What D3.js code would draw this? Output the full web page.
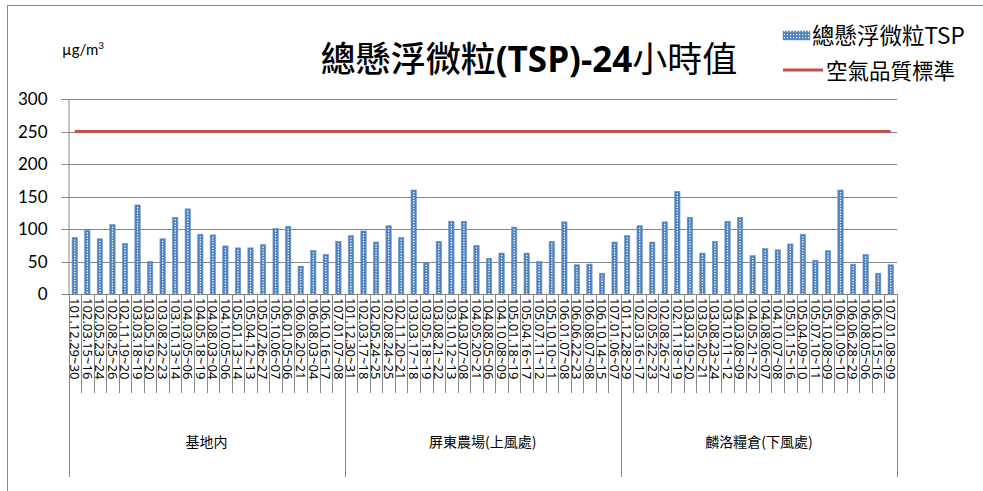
<!DOCTYPE html>
<html>
<head>
<meta charset="utf-8">
<script src="https://cdn.jsdelivr.net/npm/d3@7"></script>
<style>
  body { margin: 0; background: #fff; }
  text { font-family: "Noto Sans", "Noto Sans CJK TC", sans-serif; fill: #000; }
</style>
</head>
<body>
<div id="canvas"></div>
<script>
"use strict"

let svgWidth = 983
let svgHeight = 491

// station groups (lower category level)
let groups = ["基地内", "屏東農場(上風處)", "麟洛糧倉(下風處)"]

// sampling dates per station
let datesBase = ["101.12.29~30", "102.03.15~16", "102.05.23~24", "102.08.25~26", "102.11.19~20", "103.03.18~19",
    "103.05.19~20", "103.08.22~23", "103.10.13~14", "104.03.05~06", "104.05.18~19", "104.08.03~04", "104.10.05~06",
    "105.01.13~14", "105.04.12~13", "105.07.26~27", "105.10.06~07", "106.01.05~06", "106.06.20~21", "106.08.03~04",
    "106.10.16~17", "107.01.07~08"]
let datesFarm = ["101.12.30~31", "102.03.17~18", "102.05.24~25", "102.08.24~25", "102.11.20~21", "103.03.17~18",
    "103.05.18~19", "103.08.21~22", "103.10.12~13", "104.03.07~08", "104.05.20~21", "104.08.05~06", "104.10.08~09",
    "105.01.18~19", "105.04.16~17", "105.07.11~12", "105.10.10~11", "106.01.07~08", "106.06.22~23", "106.08.07~08",
    "106.10.14~15", "107.01.06~07"]
let datesBarn = ["101.12.28~29", "102.03.16~17", "102.05.22~23", "102.08.26~27", "102.11.18~19", "103.03.19~20",
    "103.05.20~21", "103.08.23~24", "103.10.11~12", "104.03.08~09", "104.05.21~22", "104.08.06~07", "104.10.07~08",
    "105.01.15~16", "105.04.09~10", "105.07.10~11", "105.10.08~09", "106.01.09~10", "106.06.28~29", "106.08.05~06",
    "106.10.15~16", "107.01.08~09"]

// TSP 24h values (µg/m3)
let tspBase = [87, 98, 85, 107, 78, 137, 50, 85, 118, 131, 92, 91, 74, 71, 71, 76, 101, 104, 43, 67, 61, 81]
let tspFarm = [90, 97, 80, 105, 87, 160, 48, 81, 112, 112, 75, 55, 63, 103, 63, 50, 81, 111, 45, 46, 32, 80]
let tspBarn = [90, 105, 80, 111, 158, 118, 63, 81, 112, 118, 59, 70, 68, 77, 92, 52, 67, 160, 46, 61, 32, 45]

let standardValue = 250
let yTicks = [0, 50, 100, 150, 200, 250, 300]

let seriesNames = ["總懸浮微粒TSP", "空氣品質標準"]

let plot = { left: 68.5, right: 897, top: 99, bottom: 294 }

// flatten into one row per category
let rows = []
let allDates = [datesBase, datesFarm, datesBarn]
let allTsp = [tspBase, tspFarm, tspBarn]
for (let g = 0; g < groups.length; g++) {
    for (let i = 0; i < allDates[g].length; i++) {
        rows.push({ key: g + "|" + i, group: g, date: allDates[g][i], tsp: allTsp[g][i], std: standardValue })
    }
}

let svg = d3.select("#canvas")
    .append("svg")
    .attr("width", svgWidth)
    .attr("height", svgHeight)

let defs = svg.append("defs")
let pat = defs.append("pattern")
    .attr("id", "dots")
    .attr("patternUnits", "userSpaceOnUse")
    .attr("width", 3)
    .attr("height", 3)
pat.append("rect").attr("width", 3).attr("height", 3).attr("fill", "#4F81BD")
pat.append("rect").attr("x", 1).attr("y", 1).attr("width", 1.2).attr("height", 1.2).attr("fill", "#fff")

// chart frame
svg.append("rect")
    .attr("x", 7.5)
    .attr("y", 5.5)
    .attr("width", 1000)
    .attr("height", 500)
    .attr("fill", "none")
    .attr("stroke", "#868686")

let xScale = d3.scaleBand()
    .domain(rows.map(d => d.key))
    .range([plot.left, plot.right])

let yScale = d3.scaleLinear()
    .domain([0, 300])
    .range([plot.bottom, plot.top])

// gridlines
svg.append("g")
    .selectAll("line")
    .data(yTicks.slice(1))
    .join("line")
    .attr("x1", plot.left)
    .attr("x2", plot.right)
    .attr("y1", d => Math.round(yScale(d)) + 0.5)
    .attr("y2", d => Math.round(yScale(d)) + 0.5)
    .attr("stroke", "#868686")

// y axis
let yAxis = d3.axisLeft(yScale)
    .tickValues(yTicks)
    .tickSize(7)
    .tickPadding(14)

let yg = svg.append("g")
    .attr("transform", `translate(${plot.left},0)`)
    .call(yAxis)
yg.select(".domain").attr("stroke", "#868686")
yg.selectAll(".tick line").attr("stroke", "#868686")
yg.selectAll(".tick")
    .attr("transform", d => `translate(0,${Math.round(yScale(d)) + 0.5})`)
yg.selectAll("text")
    .style("font-family", "Lato, 'Noto Sans', sans-serif")
    .style("font-size", "17px")
    .attr("fill", "#000")

// bars
let bw = xScale.bandwidth() * 0.43
let bars = svg.append("g")
    .selectAll("g")
    .data(rows)
    .join("g")

bars.append("rect")
    .attr("x", d => xScale(d.key) + (xScale.bandwidth() - bw) / 2)
    .attr("y", d => yScale(d.tsp))
    .attr("width", bw)
    .attr("height", d => yScale(0) - yScale(d.tsp))
    .attr("fill", "#4F81BD")
    .attr("stroke", "#6C97CC")
    .attr("stroke-width", 0.6)

bars.append("line")
    .attr("x1", d => xScale(d.key) + xScale.bandwidth() / 2)
    .attr("x2", d => xScale(d.key) + xScale.bandwidth() / 2)
    .attr("y1", d => yScale(d.tsp) + 2)
    .attr("y2", yScale(0))
    .attr("stroke", "#fff")
    .attr("stroke-width", 1.3)
    .attr("stroke-dasharray", "1.3,1.4")

// standard line
let line = d3.line()
    .x(d => xScale(d.key) + xScale.bandwidth() / 2)
    .y(d => yScale(d.std))

svg.append("path")
    .datum(rows)
    .attr("d", line)
    .attr("fill", "none")
    .attr("stroke", "#C0504D")
    .attr("stroke-width", 3)

// category axis: baseline, separators and labels
let axisG = svg.append("g").attr("stroke", "#868686")
axisG.append("line")
    .attr("x1", plot.left).attr("x2", plot.right)
    .attr("y1", plot.bottom + 0.5).attr("y2", plot.bottom + 0.5)

let sepBottom = 393
let groupBottom = 477
let edges = rows.map(d => xScale(d.key)).concat([plot.right])
axisG.selectAll("line.sep")
    .data(edges)
    .join("line")
    .attr("class", "sep")
    .attr("x1", d => Math.round(d) + 0.5)
    .attr("x2", d => Math.round(d) + 0.5)
    .attr("y1", plot.bottom)
    .attr("y2", (d, i) => (i % 22 === 0) ? groupBottom : sepBottom)

svg.append("g")
    .selectAll("text")
    .data(rows)
    .join("text")
    .attr("transform", d => `translate(${xScale(d.key) + xScale.bandwidth() / 2},${plot.bottom + 4}) rotate(90)`)
    .attr("dy", "0.36em")
    .style("font-size", "13px")
    .text(d => d.date)

svg.append("g")
    .selectAll("text")
    .data(groups)
    .join("text")
    .attr("x", (d, g) => (xScale(g + "|0") + xScale(g + "|21") + xScale.bandwidth()) / 2)
    .attr("y", 447)
    .attr("text-anchor", "middle")
    .style("font-family", "'Noto Sans CJK TC', sans-serif")
    .style("font-size", "14px")
    .attr("fill", "#404040")
    .text(d => d)

// title
let title = svg.append("text")
    .attr("x", 529)
    .attr("y", 72)
    .attr("text-anchor", "middle")
    .style("font-family", "'Noto Sans CJK TC', sans-serif")
    .style("font-size", "35px")
title.append("tspan").style("font-weight", "500").text("總懸浮微粒")
title.append("tspan").style("font-weight", "bold").style("font-family", "'Open Sans', sans-serif").text("(TSP)-24")
title.append("tspan").style("font-weight", "400").text("小時值")

// unit
let unit = svg.append("text")
    .attr("x", 62)
    .attr("y", 55)
    .style("font-family", "Lato, sans-serif")
    .style("font-size", "15px")
unit.append("tspan").text("µg/m")
unit.append("tspan").attr("dy", -6).style("font-size", "10px").text("3")

// legend
let legend = svg.append("g")
legend.append("rect")
    .attr("x", 783).attr("y", 31).attr("width", 27).attr("height", 9)
    .attr("fill", "url(#dots)")
    .attr("stroke", "#6C97CC").attr("stroke-width", 0.5)
legend.append("line")
    .attr("x1", 783).attr("x2", 823).attr("y1", 70).attr("y2", 70)
    .attr("stroke", "#C0504D").attr("stroke-width", 3)

legend.selectAll("text")
    .data(seriesNames)
    .join("text")
    .attr("x", (d, i) => i === 0 ? 812 : 826)
    .attr("y", (d, i) => i === 0 ? 44 : 79)
    .style("font-family", "'Noto Sans CJK TC', sans-serif")
    .style("font-size", (d, i) => i === 0 ? "22.5px" : "21.5px")
    .text(d => d)
</script>
</body>
</html>
